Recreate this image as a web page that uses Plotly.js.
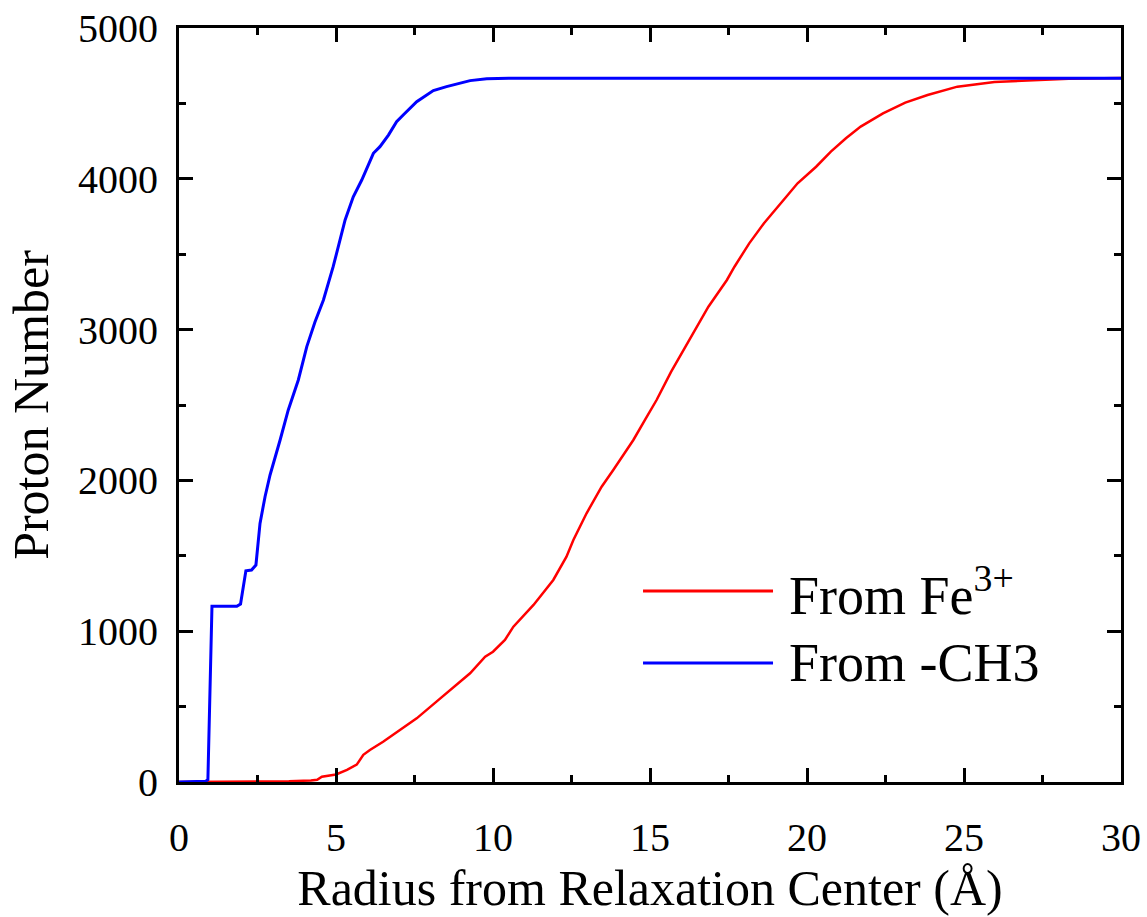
<!DOCTYPE html>
<html>
<head>
<meta charset="utf-8">
<script src="https://cdn.plot.ly/plotly-3.0.1.min.js"></script>
<style>html,body{margin:0;padding:0;background:#fff;}#chart{width:1147px;height:917px;}</style>
</head>
<body>
<div id="chart"></div>
<script>
// Radius (Å) and cumulative proton number from Fe3+
const feRadius = [0, 3.0, 3.5, 4.2, 4.4, 4.55, 5.0, 5.35, 5.66, 5.87, 6.08, 6.5, 7.04, 7.57, 8.2, 8.84, 9.27, 9.75, 10.0, 10.38, 10.65, 11.29, 11.92, 12.34, 12.56, 12.98, 13.46, 13.83, 14.47, 14.84, 15.21, 15.67, 16.26, 16.86, 17.45, 17.69, 18.16, 18.63, 19.34, 19.7, 20.29, 20.76, 21.24, 21.71, 22.42, 23.13, 23.84, 24.79, 25.97, 27.16, 28.34, 30];
const feCount  = [0, 0, 5, 10, 15, 35, 50, 80, 115, 180, 212, 267, 345, 422, 533, 643, 721, 831, 864, 942, 1030, 1174, 1340, 1494, 1605, 1782, 1958, 2069, 2268, 2401, 2533, 2720, 2931, 3152, 3329, 3417, 3572, 3705, 3881, 3970, 4080, 4180, 4269, 4346, 4434, 4505, 4556, 4611, 4642, 4655, 4664, 4668];
// Radius (Å) and cumulative proton number from -CH3
const chRadius = [0, 0.85, 0.92, 1.05, 1.84, 1.96, 2.13, 2.31, 2.45, 2.58, 2.74, 2.90, 3.22, 3.48, 3.80, 4.07, 4.33, 4.60, 4.91, 5.18, 5.29, 5.55, 5.82, 6.19, 6.40, 6.67, 6.93, 7.14, 7.57, 8.10, 8.52, 9.27, 9.8, 10.5, 12, 30];
const chCount  = [0, 5, 15, 1165, 1165, 1180, 1401, 1406, 1439, 1715, 1892, 2036, 2268, 2467, 2666, 2887, 3050, 3196, 3417, 3638, 3727, 3881, 3992, 4169, 4213, 4290, 4379, 4423, 4511, 4585, 4611, 4651, 4663, 4666, 4667, 4667];
const seriesNames = ["From Fe<sup>3+</sup>", "From -CH3"];
const xTitle = "Radius from Relaxation Center (Å)";
const yTitle = "Proton Number";

const font = "Liberation Serif, Times New Roman, serif";

const traces = [
  {x: feRadius, y: feCount, mode: "lines", line: {color: "#ff0000", width: 2.5}, name: seriesNames[0], showlegend: false},
  {x: chRadius, y: chCount, mode: "lines", line: {color: "#0000ff", width: 3}, name: seriesNames[1], showlegend: false}
];

const axisCommon = {
  showline: true, linecolor: "#000", linewidth: 3, mirror: "allticks",
  ticks: "inside", ticklen: 14, tickwidth: 3, tickcolor: "#000",
  showgrid: false, zeroline: false,
  tickfont: {family: font, size: 40, color: "#000"},
  minor: {ticks: "inside", ticklen: 7, tickwidth: 3, tickcolor: "#000", showgrid: false}
};

const layout = {
  width: 1147, height: 917,
  margin: {l: 179, r: 26, t: 28, b: 135},
  paper_bgcolor: "#fff", plot_bgcolor: "#fff",
  showlegend: false,
  xaxis: Object.assign({}, axisCommon, {
    range: [0, 30], dtick: 5, tick0: 0,
    minor: Object.assign({}, axisCommon.minor, {dtick: 2.5}),
    ticklabelstandoff: 18,
    title: {text: xTitle, font: {family: font, size: 50, color: "#000"}, standoff: 6}
  }),
  yaxis: Object.assign({}, axisCommon, {
    range: [0, 5000], dtick: 1000, tick0: 0,
    minor: Object.assign({}, axisCommon.minor, {dtick: 500}),
    ticklabelstandoff: 10,
    title: {text: yTitle, font: {family: font, size: 50, color: "#000"}, standoff: 14}
  }),
  shapes: [
    {type: "line", xref: "paper", yref: "paper", x0: 0.4926, x1: 0.6306, y0: 0.2533, y1: 0.2533, line: {color: "#ff0000", width: 3}},
    {type: "line", xref: "paper", yref: "paper", x0: 0.4926, x1: 0.6306, y0: 0.1578, y1: 0.1578, line: {color: "#0000ff", width: 3}}
  ],
  annotations: [
    {xref: "paper", yref: "paper", x: 0.6456, y: 0.2533, xanchor: "left", yanchor: "middle", showarrow: false, text: seriesNames[0], font: {family: font, size: 54, color: "#000"}},
    {xref: "paper", yref: "paper", x: 0.6456, y: 0.1578, xanchor: "left", yanchor: "middle", showarrow: false, text: seriesNames[1], font: {family: font, size: 54, color: "#000"}}
  ]
};

Plotly.newPlot("chart", traces, layout, {displayModeBar: false, staticPlot: true});
</script>
</body>
</html>
